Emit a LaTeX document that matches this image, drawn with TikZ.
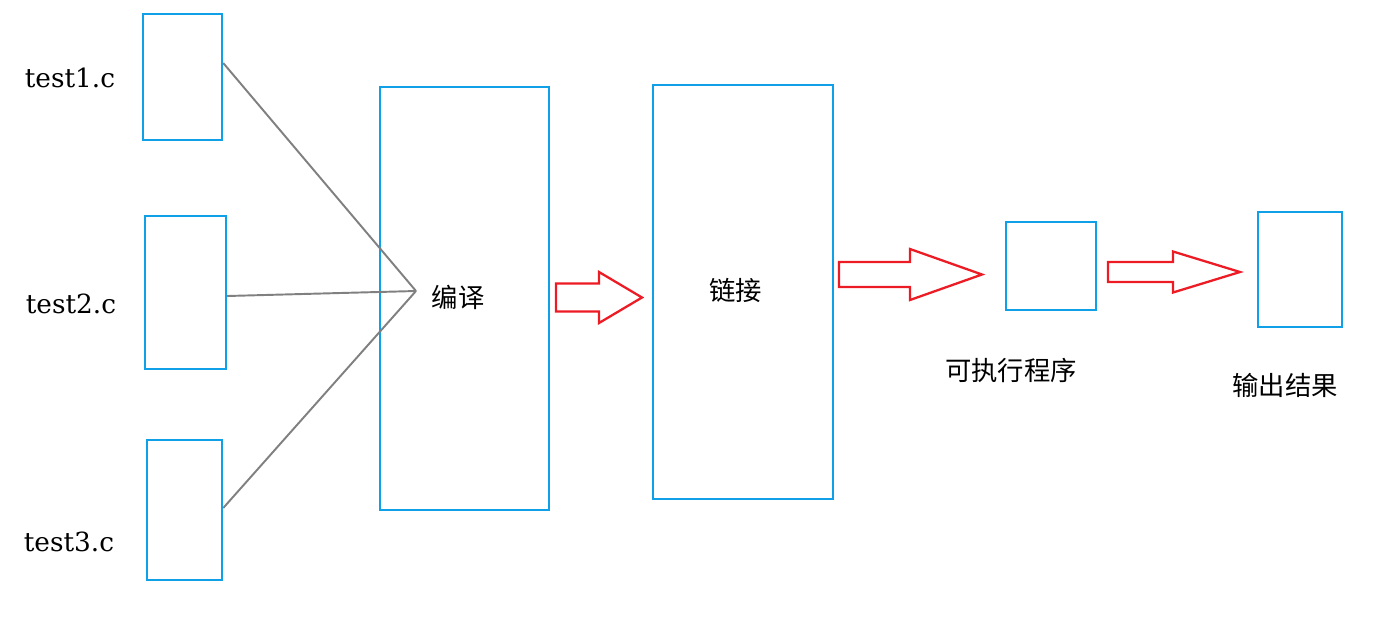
\documentclass[tikz,border=0pt]{standalone}
\usepackage{fontspec}
\usepackage{tikz}
\usetikzlibrary{calc}
\setmainfont{DejaVu Serif}
\newfontfamily\cjk{Noto Sans CJK SC}
\definecolor{azulCaja}{RGB}{16,160,232}
\definecolor{rojoFlecha}{RGB}{237,28,36}
\definecolor{grisLinea}{RGB}{128,128,128}

% hollow block arrow: x start, x head, x tip, y centre, shaft half, head half
\newcommand{\flechaHueca}[6]{%
    \draw[hueca] (#1,#4+#5) -- (#2,#4+#5) -- (#2,#4+#6) -- (#3,#4)
        -- (#2,#4-#6) -- (#2,#4-#5) -- (#1,#4-#5) -- cycle;}

\begin{document}
\begin{tikzpicture}[
        caja/.style={draw=azulCaja, line width=1.4pt, inner sep=0pt},
        archivo/.style={font=\fontsize{15}{18}\selectfont},
        etiqueta/.style={font=\cjk\fontsize{15}{18}\selectfont},
        enlace/.style={grisLinea, line width=1.1pt},
        hueca/.style={draw=rojoFlecha, line width=1.3pt, line join=miter}]
        \useasboundingbox (0,0) rectangle (27.96,-12.52);
        % source files
        \node[caja, minimum width=1.58cm, minimum height=2.52cm] (f1) at (3.65,-1.54)  {};
        \node[caja, minimum width=1.62cm, minimum height=3.06cm] (f2) at (3.71,-5.85)  {};
        \node[caja, minimum width=1.50cm, minimum height=2.80cm] (f3) at (3.69,-10.20) {};
        \node[archivo] (t1) at (1.40,-1.56)  {test1.c};
        \node[archivo] (t2) at (1.42,-6.08)  {test2.c};
        \node[archivo] (t3) at (1.38,-10.84) {test3.c};
        % stages
        \node[caja, minimum width=3.38cm, minimum height=8.46cm] (comp) at (9.29,-5.97)  {};
        \node[caja, minimum width=3.60cm, minimum height=8.28cm] (link) at (14.86,-5.84) {};
        \node[caja, minimum width=1.80cm, minimum height=1.76cm] (exe)  at (21.02,-5.32) {};
        \node[caja, minimum width=1.68cm, minimum height=2.30cm] (sal)  at (26.00,-5.39) {};
        \node[etiqueta] (lcomp) at (9.16,-5.94)  {编译};
        \node[etiqueta] (llink) at (14.71,-5.80) {链接};
        \node[etiqueta] (lexe)  at (20.22,-7.40) {可执行程序};
        \node[etiqueta] (lsal)  at (25.70,-7.70) {输出结果};
        % files into the compiler
        \coordinate (hub) at (8.32,-5.82);
        \draw[enlace] ([yshift=0.28cm]f1.east) -- (hub);
        \draw[enlace] ([yshift=-0.07cm]f2.east) -- (hub);
        \draw[enlace] ([yshift=0.04cm]f3.east) -- (hub);
        % red arrows
        \flechaHueca{11.12}{11.98}{12.84}{-5.95}{0.28}{0.51}
        \flechaHueca{16.78}{18.20}{19.64}{-5.49}{0.25}{0.51}
        \flechaHueca{22.16}{23.46}{24.80}{-5.44}{0.20}{0.41}
    \end{tikzpicture}
\end{document}
